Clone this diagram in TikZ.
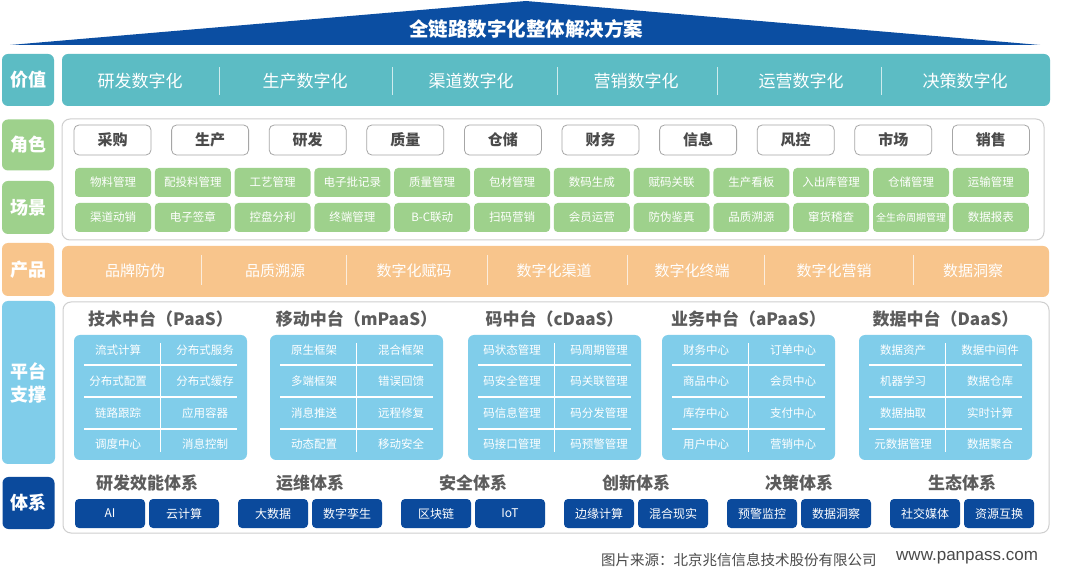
\documentclass[tikz,border=0pt]{standalone}
\usepackage{fontspec}
\setmainfont{Noto Sans CJK SC}
\newfontfamily\latinsans{Liberation Sans}
\definecolor{ctitle}{HTML}{0B4EA2}
\definecolor{cval}{HTML}{5CBCC4}
\definecolor{cgreen}{HTML}{9ED18C}
\definecolor{corange}{HTML}{F8C58C}
\definecolor{cplat}{HTML}{80CDEA}
\definecolor{csys}{HTML}{0B4A9C}
\definecolor{cgray}{HTML}{4A4A4A}
\definecolor{cframe}{HTML}{CFCFCF}
\newcommand\myfs[1]{\fontsize{#1}{#1}\selectfont}
\tikzset{
  lab/.style={rounded corners=6pt, minimum width=52pt, text=white, font=\bfseries\myfs{18}, align=center, inner sep=0pt},
  band/.style={rounded corners=6pt, inner sep=0pt},
  frame/.style={draw=cframe, line width=1pt, fill=white, rounded corners=8pt, inner sep=0pt},
  rolebox/.style={draw=black!35, line width=0.8pt, fill=white, rounded corners=5pt, minimum width=77pt, minimum height=30pt, inner sep=0pt, text=cgray, font=\bfseries\myfs{15}},
  scenebox/.style={fill=cgreen, rounded corners=4pt, minimum width=76pt, minimum height=29pt, inner sep=0pt, text=white, font=\myfs{11.5}},
  bandtext/.style={text=white, font=\myfs{17}, inner sep=0pt},
  sep/.style={draw=white, line width=0.8pt, opacity=0.7},
  platbox/.style={fill=cplat, rounded corners=6pt, minimum width=173pt, minimum height=125pt, inner sep=0pt},
  plattitle/.style={text=cgray!90, font=\bfseries\myfs{17}, inner sep=0pt},
  celltext/.style={text=white, font=\myfs{11.5}, inner sep=0pt},
  cellline/.style={draw=white, line width=1.2pt},
  systitle/.style={text=cgray!90, font=\bfseries\myfs{17}, inner sep=0pt},
  btn/.style={fill=csys, rounded corners=4pt, minimum width=70pt, minimum height=29pt, inner sep=0pt, text=white, font=\myfs{12}},
  foot/.style={text=cgray, inner sep=0pt}
}
\begin{document}
\begin{tikzpicture}[x=1pt,y=-1pt]
\useasboundingbox[fill=white] (0,0) rectangle (1080,577);

% title
\fill[ctitle] (10,45) -- (526,1) -- (1040,45) -- cycle;
\node[text=white, font=\bfseries\myfs{19.5}, inner sep=0pt] (title) at (526,29) {全链路数字化整体解决方案};

% value row
\node[lab, fill=cval, minimum height=52pt] (lval) at (28,80) {价值};
\node[band, fill=cval, minimum width=988pt, minimum height=52pt] (vband) at (556,80) {};
\foreach \t/\x [count=\i] in {研发数字化/140,生产数字化/305,渠道数字化/471,营销数字化/636,运营数字化/801,决策数字化/965}
  \node[bandtext] (v\i) at (\x,81) {\t};
\foreach \x in {219,392,557,717,881}
  \draw[sep] (\x,67) -- (\x,95);

% role + scene
\node[lab, fill=cgreen, minimum height=51pt] (lrole) at (28,145) {角色};
\node[lab, fill=cgreen, minimum height=53pt] (lscene) at (28,207.5) {场景};
\node[frame, minimum width=982pt, minimum height=121pt] (rsframe) at (553,179.5) {};
\foreach \t [count=\i from 0] in {采购,生产,研发,质量,仓储,财务,信息,风控,市场,销售}
  \node[rolebox] (r\i) at (112.5+97.6*\i,140) {\t};
\foreach \t [count=\i from 0] in {物料管理,配投料管理,工艺管理,电子批记录,质量管理,包材管理,数码生成,赋码关联,生产看板,入出库管理,仓储管理,运输管理}
  \node[scenebox] (sa\i) at (113+79.8*\i,182.5) {\t};
\foreach \t [count=\i from 0] in {渠道动销,电子签章,控盘分利,终端管理,B-C联动,扫码营销,会员运营,防伪鉴真,品质溯源,窜货稽查,{\myfs{10}全生命周期管理},数据报表}
  \node[scenebox] (sb\i) at (113+79.8*\i,217.5) {\t};

% product
\node[lab, fill=corange, minimum height=53pt] (lprod) at (28,269.5) {产品};
\node[band, fill=corange, minimum width=987pt, minimum height=51pt] (pband) at (555.5,271.5) {};
\foreach \t/\x [count=\i] in {品牌防伪/135,品质溯源/275,数字化赋码/414,数字化渠道/554,数字化终端/692,数字化营销/834,数据洞察/973}
  \node[bandtext, font=\myfs{15}] (p\i) at (\x,271) {\t};
\foreach \x in {201,346,487,627,764,913}
  \draw[sep] (\x,255) -- (\x,285);

% platform
\node[lab, fill=cplat, minimum height=163pt, minimum width=53pt, font=\bfseries\fontsize{18}{23}\selectfont] (lplat) at (28.5,382.5) {平台\\支撑};
\node[frame, minimum width=986pt, minimum height=231pt] (pframe) at (556,417.5) {};

\foreach \L/\ttl/\a/\b/\c/\d/\e/\f/\g/\h [count=\k] in {
  74/{技术中台（PaaS）}/流式计算/分布式服务/分布式配置/分布式缓存/链路跟踪/应用容器/调度中心/消息控制,
  270/{移动中台（mPaaS）}/原生框架/混合框架/多端框架/错误回馈/消息推送/远程修复/动态配置/移动安全,
  468/{码中台（cDaaS）}/码状态管理/码周期管理/码安全管理/码关联管理/码信息管理/码分发管理/码接口管理/码预警管理,
  662/{业务中台（aPaaS）}/财务中心/订单中心/商品中心/会员中心/库存中心/支付中心/用户中心/营销中心,
  859/{数据中台（DaaS）}/数据资产/数据中间件/机器学习/数据仓库/数据抽取/实时计算/元数据管理/数据聚合}{
  \node[plattitle] (pt\k) at (\L+86.5,319) {\ttl};
  \node[platbox] (pb\k) at (\L+86.5,397.5) {};
  \draw[cellline] (\L+86.5,343) -- (\L+86.5,452);
  \foreach \yy in {365,397,429}
    \draw[cellline] (\L+10,\yy) -- (\L+163,\yy);
  \node[celltext] (c\k a) at (\L+44,350) {\a};
  \node[celltext] (c\k b) at (\L+131,350) {\b};
  \node[celltext] (c\k c) at (\L+44,381.5) {\c};
  \node[celltext] (c\k d) at (\L+131,381.5) {\d};
  \node[celltext] (c\k e) at (\L+44,413) {\e};
  \node[celltext] (c\k f) at (\L+131,413) {\f};
  \node[celltext] (c\k g) at (\L+44,444.5) {\g};
  \node[celltext] (c\k h) at (\L+131,444.5) {\h};
}

% system
\node[lab, fill=csys, minimum height=52pt] (lsys) at (28.5,503) {体系};
\foreach \C/\ttl/\p/\q [count=\k] in {
  147/研发效能体系/AI/云计算,
  310/运维体系/大数据/数字孪生,
  473/安全体系/区块链/IoT,
  636/创新体系/边缘计算/混合现实,
  799/决策体系/预警监控/数据洞察,
  962/生态体系/社交媒体/资源互换}{
  \node[systitle] (st\k) at (\C,483) {\ttl};
  \node[btn] (ba\k) at (\C-37,513.5) {\p};
  \node[btn] (bb\k) at (\C+37,513.5) {\q};
}

% footer
\node[foot, anchor=west, font=\myfs{14.5}] (src) at (601,560) {图片来源：北京兆信信息技术股份有限公司};
\node[foot, anchor=west, font=\latinsans\myfs{17}] (url) at (896,558) {www.panpass.com};
\end{tikzpicture}
\end{document}
